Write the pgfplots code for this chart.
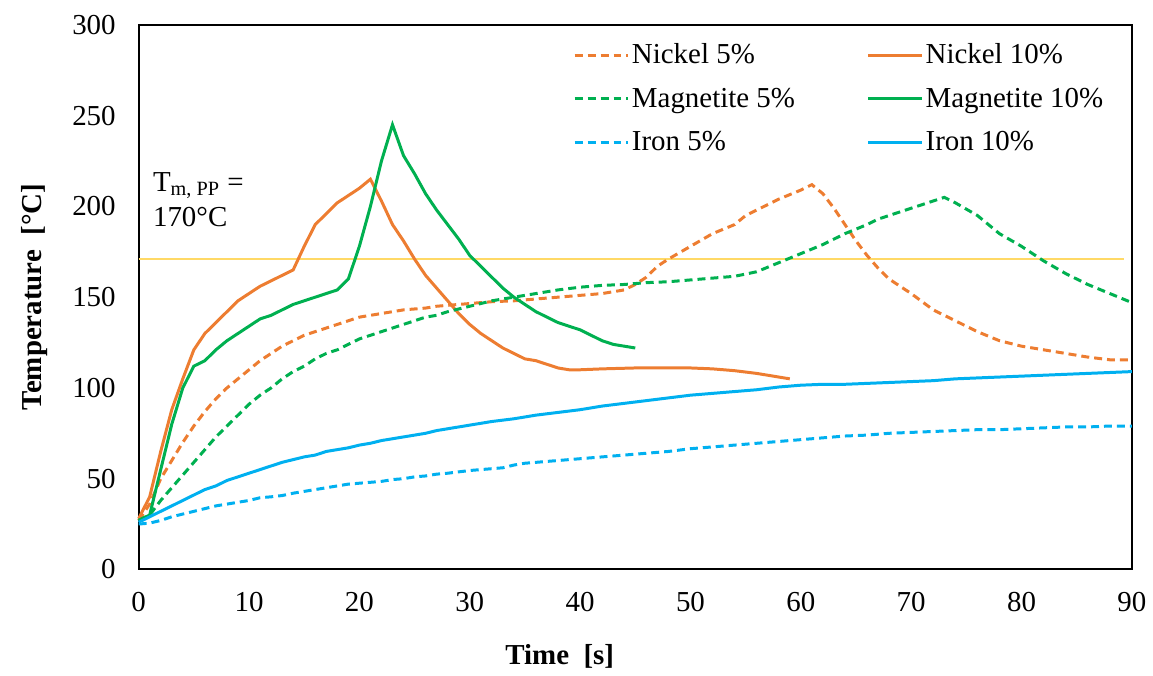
\documentclass[border=0pt]{standalone}
\usepackage{pgfplots}
\pgfplotsset{compat=1.18}
\usepackage{fontspec}
\setmainfont{Liberation Serif}
\newcommand\fs{\fontsize{14.5}{17.5}\selectfont}
\definecolor{niC}{HTML}{ED7D31}
\definecolor{mgC}{HTML}{00B050}
\definecolor{feC}{HTML}{00B0F0}
\definecolor{tmC}{HTML}{FFD966}
\begin{document}
\begin{tikzpicture}
\begin{axis}[
 scale only axis, width=498pt, height=273pt,
 xmin=0, xmax=90, ymin=0, ymax=300,
 xtick={0,10,...,90}, ytick={0,50,...,300},
 major tick length=0pt,
 axis line style={line width=1pt},
 tick label style={font=\fs},
 /pgf/number format/assume math mode=true,
 xticklabel style={yshift=-8pt},
 yticklabel style={xshift=-8pt},
 xlabel={Time\ \ [s]}, ylabel={Temperature\ \ [°C]},
 xlabel style={at={(rel axis cs:0.424,-0.16)}, anchor=center, font=\fs\bfseries},
 ylabel style={at={(rel axis cs:-0.105,0.5)}, anchor=center, font=\fs\bfseries},
 clip=false,
 legend columns=2,
 legend cell align=left,
 legend style={at={(rel axis cs:0.431,0.977)}, anchor=north west, draw=none, fill=none, font=\fs,
   row sep=8.5pt, nodes={inner sep=1pt}, /tikz/every even column/.append style={column sep=35pt}},
 legend image code/.code={\draw[#1] (0pt,0pt) -- (27pt,0pt);},
 every axis plot/.append style={line width=1.5pt},
]
\addplot[color=tmC, line width=0.8pt, forget plot] coordinates {(0,171) (89.3,171)};

\addplot[color=niC, dash pattern=on 4pt off 2.5pt] table {
0 27
1 36
2 50
3 60
4 70
5 79
6 87
7 94
8 100
9 105
10 110
11 115
12 119
13 123
14 126
15 129
16 131
17 133
18 135
19 137
20 139
21 140
22 141
23 142
24 143
25 143.5
26 144
27 145
28 145.5
30 146.5
32 147.5
34 148
36 149
38 150
40 151
42 152
44 154
45 157
46 161
47 167
48 171
50 178
52 185
54 190
55 195
56 198
58 204
60 209
61 212
62 207
63 199
64 190
65 181
66 173
67 166
68 160
70 152
72 143
74 137
76 131
78 126
80 123
82 121
84 119
86 117
88 115.5
90 115.5
};
\addlegendentry{Nickel 5\%}

\addplot[color=niC] table {
0 28
1 40
2 65
3 88
4 105
5 121
6 130
7 136
8 142
9 148
10 152
11 156
12 159
13 162
14 165
15 178
16 190
17 196
18 202
19 206
20 210
21 215
22 203
23 190
24 181
25 171
26 162
27 155
28 148
29 141
30 135
31 130
32 126
33 122
34 119
35 116
36 115
37 113
38 111
39 110
40 110
42 110.5
45 111
50 111
52 110.5
54 109.5
56 108
58 106
59 105
};
\addlegendentry{Nickel 10\%}

\addplot[color=mgC, dash pattern=on 4pt off 2.5pt] table {
0 27
1 30
2 38
3 45
4 52
5 59
6 66
7 73
8 79
9 85
10 91
11 96
12 100
13 105
14 109
15 112
16 116
17 119
18 121
19 124
20 127
21 129
22 131
23 133
24 135
25 137
26 139
27 140
28 142
29 143.5
30 145
32 148
34 150
36 152
38 154
40 155.5
42 156.5
44 157
46 158
48 158.5
50 159.5
52 160.5
54 161.5
56 164
58 169
60 174
62 179
64 185
66 190
67 193
68 195
70 199
72 203
73 205
74 202
76 195
78 185
80 178
82 170
84 163
86 157
88 152
90 147
};
\addlegendentry{Magnetite 5\%}

\addplot[color=mgC] table {
0 27
1 30
2 55
3 80
4 100
5 112
6 115
7 121
8 126
9 130
10 134
11 138
12 140
13 143
14 146
15 148
16 150
17 152
18 154
19 160
20 178
21 200
22 225
23 245
24 228
25 218
26 207
27 198
28 190
29 182
30 173
31 167
32 161
33 155
34 150
35 146
36 142
37 139
38 136
39 134
40 132
41 129
42 126
43 124
44 123
45 122
};
\addlegendentry{Magnetite 10\%}

\addplot[color=feC, dash pattern=on 4pt off 2.5pt] table {
0 25
1 25.5
2 27
3 29
4 30.5
5 32
6 33.5
7 35
8 36
9 37
10 38
11 39.5
12 40
13 40.7
14 42
15 43
16 44
17 45
18 46
19 47
20 47.5
21 48
22 48.5
23 49.5
24 50
25 51
26 51.5
27 52.5
28 53
30 54.5
32 55.5
33 56
34 57.5
35 58.5
36 59
38 60
40 61
42 62
44 63
46 64
48 65
50 66.5
52 67.5
54 68.5
56 69.5
58 70.5
60 71.5
62 72.5
64 73.5
66 74
68 75
70 75.5
72 76
74 76.5
76 77
78 77
80 77.5
82 78
84 78.5
86 78.5
88 79
90 79
};
\addlegendentry{Iron 5\%}

\addplot[color=feC] table {
0 26
1 29
2 32
3 35
4 38
5 41
6 44
7 46
8 49
9 51
10 53
11 55
12 57
13 59
14 60.5
15 62
16 63
17 65
18 66
19 67
20 68.5
21 69.5
22 71
23 72
24 73
25 74
26 75
27 76.5
28 77.5
30 79.5
32 81.5
34 83
36 85
38 86.5
40 88
42 90
44 91.5
46 93
48 94.5
50 96
52 97
54 98
56 99
58 100.5
60 101.5
62 102
64 102
66 102.5
68 103
70 103.5
72 104
74 105
76 105.5
78 106
80 106.5
82 107
84 107.5
86 108
88 108.5
90 109
};
\addlegendentry{Iron 10\%}

\node[anchor=north west, align=left, inner sep=0pt, font=\fs] at (axis cs:1.27,219) {T\textsubscript{m, PP} =\\170°C};
\path (rel axis cs:-0.1396,-0.185) rectangle (rel axis cs:1.0181,1.0458);
\end{axis}
\end{tikzpicture}
\end{document}
